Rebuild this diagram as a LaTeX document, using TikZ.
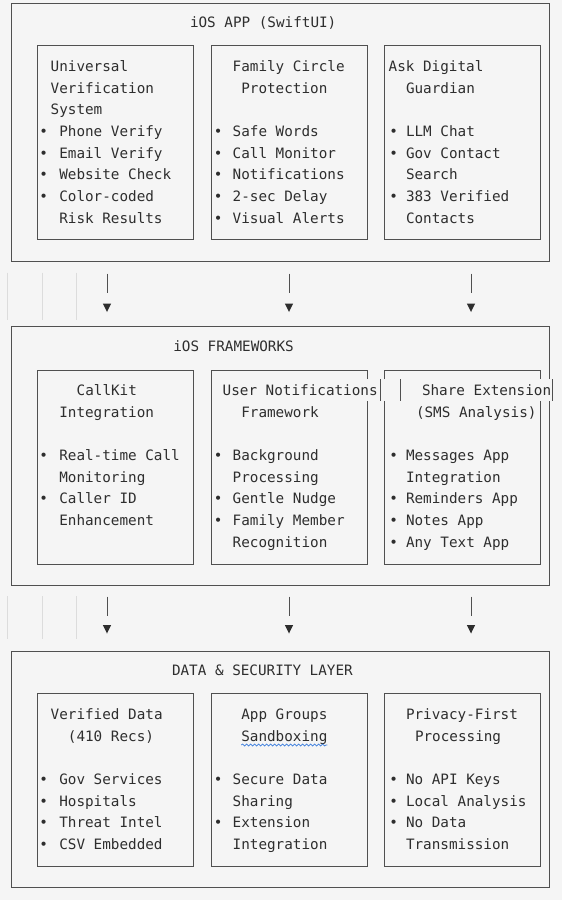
\documentclass[tikz,border=0pt]{standalone}
\usepackage{fontspec}
\usetikzlibrary{decorations.pathmorphing}
\newfontfamily\mono{DejaVu Sans Mono}
\definecolor{bg}{HTML}{F5F5F5}
\definecolor{tcol}{HTML}{2E2E2E}
\definecolor{lcol}{HTML}{505050}
\definecolor{gut}{HTML}{DCDCDC}
\definecolor{squig}{HTML}{3B7DDD}
\tikzset{
  txt/.style={anchor=base west, inner sep=0pt, outer sep=0pt, font=\mono\fontsize{14.3}{17}\selectfont, text=tcol},
  bul/.style={anchor=base, inner sep=0pt, outer sep=0pt, font=\mono\fontsize{14.3}{17}\selectfont, text=tcol},
  boxline/.style={draw=lcol, line width=0.8pt},
  gutter/.style={draw=gut, line width=0.8pt},
  arr/.style={draw=lcol, line width=0.9pt},
  tri/.style={fill=tcol},
}
\newcommand{\Tx}[4]{\node[txt] (#1) at (#2,#3+5.3) {#4};}
\newcommand{\Bu}[3]{\node[bul] (#1) at (#2,#3+5.3) {•};}
\newcommand{\Arw}[4]{% name, x, line top, triangle top
  \coordinate (#1s) at (#2,#3);
  \coordinate (#1e) at (#2,#3+19.5);
  \coordinate (#1t) at (#2,#4);
  \draw[arr] (#1s) -- (#1e);
  \fill[tri] (#1t) ++(-4.2,0) -- ++(8.4,0) -- ++(-4.2,8.5) -- cycle;
}
\begin{document}
\begin{tikzpicture}[x=1pt,y=-1pt]
\fill[bg] (0,0) rectangle (562,900);
\useasboundingbox (0,0) rectangle (562,900);

% ================= Section 1 =================
\draw[boxline] (11,3.3) rectangle (549,261.7);
\draw[boxline] (37,45.7) rectangle (193,239);
\draw[boxline] (211,45.7) rectangle (367,239);
\draw[boxline] (384,45.7) rectangle (540,239);
\Tx{t1}{190}{22.6}{iOS APP (SwiftUI)}
% box 1
\Tx{a0}{50.7}{66}{Universal}
\Tx{a1}{50.7}{87.7}{Verification}
\Tx{a2}{50.7}{109.4}{System}
\Bu{ab3}{43.8}{131.1}\Tx{a3}{59.3}{131.1}{Phone Verify}
\Bu{ab4}{43.8}{152.8}\Tx{a4}{59.3}{152.8}{Email Verify}
\Bu{ab5}{43.8}{174.5}\Tx{a5}{59.3}{174.5}{Website Check}
\Bu{ab6}{43.8}{196.2}\Tx{a6}{59.3}{196.2}{Color-coded}
\Tx{a7}{59.3}{217.9}{Risk Results}
% box 2
\Tx{b0}{232.7}{66}{Family Circle}
\Tx{b1}{241.3}{87.7}{Protection}
\Bu{bb3}{218.3}{131.1}\Tx{b3}{232.7}{131.1}{Safe Words}
\Bu{bb4}{218.3}{152.8}\Tx{b4}{232.7}{152.8}{Call Monitor}
\Bu{bb5}{218.3}{174.5}\Tx{b5}{232.7}{174.5}{Notifications}
\Bu{bb6}{218.3}{196.2}\Tx{b6}{232.7}{196.2}{2-sec Delay}
\Bu{bb7}{218.3}{217.9}\Tx{b7}{232.7}{217.9}{Visual Alerts}
% box 3
\Tx{c0}{388.7}{66}{Ask Digital}
\Tx{c1}{406}{87.7}{Guardian}
\Bu{cb3}{393.7}{131.1}\Tx{c3}{406}{131.1}{LLM Chat}
\Bu{cb4}{393.7}{152.8}\Tx{c4}{406}{152.8}{Gov Contact}
\Tx{c5}{406}{174.5}{Search}
\Bu{cb6}{393.7}{196.2}\Tx{c6}{406}{196.2}{383 Verified}
\Tx{c7}{406}{217.9}{Contacts}

% ================= Gap 1 =================
\draw[gutter] (7.6,272.5) -- (7.6,320);
\draw[gutter] (42.7,272.5) -- (42.7,320);
\draw[gutter] (76.5,272.5) -- (76.5,320);
\Arw{g1a}{107}{273.5}{303.5}
\Arw{g1b}{289}{273.5}{303.5}
\Arw{g1c}{471}{273.5}{303.5}

% ================= Section 2 =================
% outer box with shifted bar on the first text row
\draw[boxline] (549,379.2) -- (549,326.7) -- (11,326.7) -- (11,585.7) -- (549,585.7) -- (549,400.8);
\draw[boxline] (552.7,379.2) -- (552.7,400.8);
\draw[boxline] (37,370) rectangle (193,564);
\draw[boxline] (367,379.2) -- (367,370) -- (211,370) -- (211,564) -- (367,564) -- (367,400.8);
\draw[boxline] (380.7,379.2) -- (380.7,400.8);
\draw[boxline] (384,379.2) -- (384,370) -- (540,370) -- (540,379.2);
\draw[boxline] (384,400.8) -- (384,564) -- (540,564) -- (540,400.8);
\draw[boxline] (400.7,379.2) -- (400.7,400.8);
\Tx{t2}{173.3}{346.6}{iOS FRAMEWORKS}
% box 1
\Tx{d0}{76.7}{390}{CallKit}
\Tx{d1}{59.3}{411.7}{Integration}
\Bu{db3}{43.8}{455.1}\Tx{d3}{59.3}{455.1}{Real-time Call}
\Tx{d4}{59.3}{476.8}{Monitoring}
\Bu{db5}{43.8}{498.5}\Tx{d5}{59.3}{498.5}{Caller ID}
\Tx{d6}{59.3}{520.2}{Enhancement}
% box 2
\Tx{e0}{222.7}{390}{User Notifications}
\Tx{e1}{241.3}{411.7}{Framework}
\Bu{eb3}{218.3}{455.1}\Tx{e3}{232.7}{455.1}{Background}
\Tx{e4}{232.7}{476.8}{Processing}
\Bu{eb5}{218.3}{498.5}\Tx{e5}{232.7}{498.5}{Gentle Nudge}
\Bu{eb6}{218.3}{520.2}\Tx{e6}{232.7}{520.2}{Family Member}
\Tx{e7}{232.7}{541.9}{Recognition}
% box 3
\Tx{f0}{422}{390}{Share Extension}
\Tx{f1}{416}{411.7}{(SMS Analysis)}
\Bu{fb3}{393.7}{455.1}\Tx{f3}{406}{455.1}{Messages App}
\Tx{f4}{406}{476.8}{Integration}
\Bu{fb5}{393.7}{498.5}\Tx{f5}{406}{498.5}{Reminders App}
\Bu{fb6}{393.7}{520.2}\Tx{f6}{406}{520.2}{Notes App}
\Bu{fb7}{393.7}{541.9}\Tx{f7}{406}{541.9}{Any Text App}

% ================= Gap 2 =================
\draw[gutter] (7.6,596) -- (7.6,639);
\draw[gutter] (42.7,596) -- (42.7,639);
\draw[gutter] (76.5,596) -- (76.5,639);
\Arw{g2a}{107}{596.5}{625}
\Arw{g2b}{289}{596.5}{625}
\Arw{g2c}{471}{596.5}{625}

% ================= Section 3 =================
\draw[boxline] (11,651) rectangle (549,887.7);
\draw[boxline] (37,693.3) rectangle (193,866.7);
\draw[boxline] (211,693.3) rectangle (367,866.7);
\draw[boxline] (384,693.3) rectangle (540,866.7);
\Tx{t3}{172}{670.6}{DATA \& SECURITY LAYER}
% box 1
\Tx{h0}{50.7}{714}{Verified Data}
\Tx{h1}{67.9}{735.7}{(410 Recs)}
\Bu{hb3}{43.8}{779.1}\Tx{h3}{59.3}{779.1}{Gov Services}
\Bu{hb4}{43.8}{800.8}\Tx{h4}{59.3}{800.8}{Hospitals}
\Bu{hb5}{43.8}{822.5}\Tx{h5}{59.3}{822.5}{Threat Intel}
\Bu{hb6}{43.8}{844.2}\Tx{h6}{59.3}{844.2}{CSV Embedded}
% box 2
\Tx{i0}{241.3}{714}{App Groups}
\Tx{i1}{241.3}{735.7}{Sandboxing}
\draw[squig, line width=0.7pt, decorate, decoration={snake, amplitude=1pt, segment length=4pt}] (i1.base west) ++(0,4) -- ++(86,0);
\Bu{ib3}{218.3}{779.1}\Tx{i3}{232.7}{779.1}{Secure Data}
\Tx{i4}{232.7}{800.8}{Sharing}
\Bu{ib5}{218.3}{822.5}\Tx{i5}{232.7}{822.5}{Extension}
\Tx{i6}{232.7}{844.2}{Integration}
% box 3
\Tx{j0}{406}{714}{Privacy-First}
\Tx{j1}{415}{735.7}{Processing}
\Bu{jb3}{393.7}{779.1}\Tx{j3}{406}{779.1}{No API Keys}
\Bu{jb4}{393.7}{800.8}\Tx{j4}{406}{800.8}{Local Analysis}
\Bu{jb5}{393.7}{822.5}\Tx{j5}{406}{822.5}{No Data}
\Tx{j6}{406}{844.2}{Transmission}
\end{tikzpicture}
\end{document}
